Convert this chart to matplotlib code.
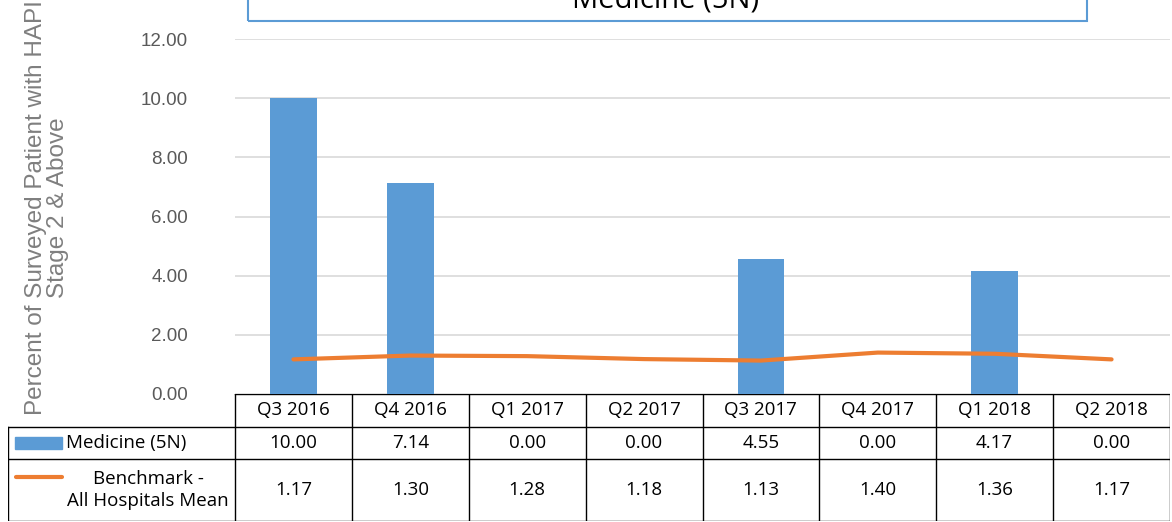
import matplotlib
matplotlib.use("Agg")
import matplotlib.pyplot as plt
from matplotlib.patches import Rectangle
from matplotlib.lines import Line2D

# chart data
quarters = ["Q3 2016", "Q4 2016", "Q1 2017", "Q2 2017", "Q3 2017", "Q4 2017", "Q1 2018", "Q2 2018"]
medicine_5n = [10.00, 7.14, 0.00, 0.00, 4.55, 0.00, 4.17, 0.00]
benchmark = [1.17, 1.30, 1.28, 1.18, 1.13, 1.40, 1.36, 1.17]
y_ticks = [0, 2, 4, 6, 8, 10, 12]

BLUE = "#5B9BD5"
ORANGE = "#ED7D31"
W, H = 1172, 522

fig = plt.figure(figsize=(W / 100, H / 100), dpi=100)

# main plot area (pixel layout)
ax_left, ax_right, ax_top, ax_bot = 235, 1170, 39, 394
ax = fig.add_axes([ax_left / W, 1 - ax_bot / H, (ax_right - ax_left) / W, (ax_bot - ax_top) / H])
x = list(range(len(quarters)))
ax.bar(x, medicine_5n, width=0.4, color=BLUE, zorder=3)
ax.plot(x, benchmark, color=ORANGE, lw=3, solid_capstyle="round", zorder=4)
ax.set_xlim(-0.5, len(quarters) - 0.5)
ax.set_ylim(0, 12)
ax.set_yticks(y_ticks)
ax.set_yticklabels([f"{v:.2f}" for v in y_ticks], fontsize=13.5, color="#595959",
                   family="Liberation Sans")
ax.tick_params(axis="y", length=0, pad=34)
ax.set_xticks([])
ax.grid(axis="y", color="#D9D9D9", lw=1.2, zorder=0)
for s in ax.spines.values():
    s.set_visible(False)

fig.text(47 / W, 1 - 208 / H, "Percent of Surveyed Patient with HAPI\nStage 2 & Above",
         rotation=90, ha="center", va="center", fontsize=17.5, color="#7F7F7F",
         family="Liberation Sans", linespacing=1.0)

# title box (cut off at the top edge)
fig.patches.append(Rectangle((248 / W, 1 - 21 / H), (1087 - 248) / W, 40 / H,
                             transform=fig.transFigure, fill=False, ec=BLUE, lw=1.5))
fig.text(666 / W, 1 - 8 / H, "Medicine (5N)", ha="center", va="baseline", fontsize=21,
         family="Open Sans", color="#000000")

# data table below the plot
tb_left, tb_right, tb_top, tb_bot = 8, 1170, 394, 521
tax = fig.add_axes([tb_left / W, 1 - tb_bot / H, (tb_right - tb_left) / W, (tb_bot - tb_top) / H])
col_w = (ax_right - ax_left) / len(quarters)
tax.set_xlim(tb_left - ax_left, tb_right - ax_left)
tax.set_ylim(tb_bot - tb_top, 0)
tax.axis("off")
rows = [0, 33, 65, 127]
n = len(quarters)
lc = "#000000"
lw = 1.0
# horizontal lines
tax.plot([0, n * col_w], [rows[0], rows[0]], color=lc, lw=lw)
for r in rows[1:]:
    tax.plot([tb_left - ax_left, n * col_w], [r, r], color=lc, lw=lw)
# vertical lines
for i in range(n + 1):
    tax.plot([i * col_w, i * col_w], [rows[0], rows[3]], color=lc, lw=lw)
tax.plot([tb_left - ax_left] * 2, [rows[1], rows[3]], color=lc, lw=lw)

tfont = dict(fontsize=13.5, family="Open Sans", color="#000000", ha="center", va="center")
for i, q in enumerate(quarters):
    cx = (i + 0.5) * col_w
    tax.text(cx, (rows[0] + rows[1]) / 2, q, **tfont)
    tax.text(cx, (rows[1] + rows[2]) / 2, f"{medicine_5n[i]:.2f}", **tfont)
    tax.text(cx, (rows[2] + rows[3]) / 2, f"{benchmark[i]:.2f}", **tfont)

# legend keys in the row headers
tax.add_patch(Rectangle((15 - ax_left, 43), 47, 12, color=BLUE))
tax.text(66 - ax_left, (rows[1] + rows[2]) / 2, "Medicine (5N)", ha="left", va="center",
         fontsize=13.5, family="Open Sans")
tax.add_line(Line2D([16 - ax_left, 62 - ax_left], [83, 83], color=ORANGE, lw=3,
                    solid_capstyle="round"))
tax.text(148 - ax_left, (rows[2] + rows[3]) / 2, "Benchmark -\nAll Hospitals Mean",
         ha="center", va="center", fontsize=13.5, family="Open Sans", linespacing=1.35)

fig.savefig("out.png", dpi=100)
